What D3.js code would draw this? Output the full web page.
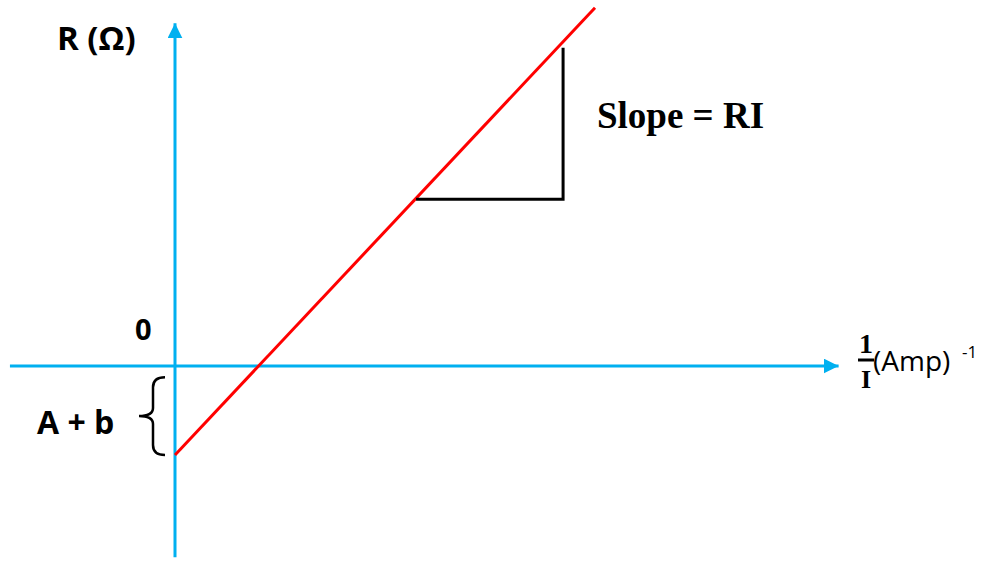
<!DOCTYPE html>
<html>
<head>
<meta charset="utf-8">
<script src="https://cdn.jsdelivr.net/npm/d3@7"></script>
<style>
  html, body { margin: 0; padding: 0; background: #fff; }
  svg { display: block; }
</style>
</head>
<body>
<svg id="chart" width="987" height="561"></svg>
<script>
// Linear relation R = RI * (1/I) - (A + b)
const lineX = [0, 10];          // 1/I (Amp^-1)
const lineR = [-2, 8.05];       // R (Ω)
const xAxisExtent = [-3.93, 15.8];
const yAxisExtent = [-4.3, 7.7];
const slopeRun = [5.74, 9.24];   // horizontal leg of slope triangle
const slopeRise = [3.75, 7.15];  // vertical leg of slope triangle
const intercept = -2;            // A + b, below zero
const braceTop = -0.25;

const svg = d3.select("#chart");
const x = d3.scaleLinear().domain([0, 10]).range([175, 595]);
const y = d3.scaleLinear().domain([0, 8]).range([366, 10]);

const blue = "#00b0f0";

// arrowheads
const defs = svg.append("defs");
defs.append("marker").attr("id", "arrow")
  .attr("viewBox", "0 0 10 10").attr("refX", 10).attr("refY", 5)
  .attr("markerWidth", 15).attr("markerHeight", 15)
  .attr("markerUnits", "userSpaceOnUse").attr("orient", "auto")
  .append("path").attr("d", "M0,0 L10,5 L0,10 Z").attr("fill", blue);

// x axis
svg.append("line")
  .attr("x1", x(xAxisExtent[0])).attr("x2", x(xAxisExtent[1]))
  .attr("y1", y(0)).attr("y2", y(0))
  .attr("stroke", blue).attr("stroke-width", 3)
  .attr("marker-end", "url(#arrow)");

// y axis
svg.append("line")
  .attr("x1", x(0)).attr("x2", x(0))
  .attr("y1", y(yAxisExtent[0])).attr("y2", y(yAxisExtent[1]))
  .attr("stroke", blue).attr("stroke-width", 3)
  .attr("marker-end", "url(#arrow)");

// fitted line
const pts = lineX.map((v, i) => [v, lineR[i]]);
svg.append("path")
  .attr("d", d3.line().x(d => x(d[0])).y(d => y(d[1]))(pts))
  .attr("fill", "none").attr("stroke", "#ff0000").attr("stroke-width", 3);

// slope triangle
svg.append("path")
  .attr("d", d3.line()([
    [x(slopeRun[0]), y(slopeRise[0])],
    [x(slopeRun[1]), y(slopeRise[0])],
    [x(slopeRun[1]), y(slopeRise[1])]
  ]))
  .attr("fill", "none").attr("stroke", "#000").attr("stroke-width", 3);

// curly brace marking the intercept
const bT = y(braceTop), bB = y(intercept), bM = (bT + bB) / 2;
const bx = 165, bc = 153, tip = 139;
svg.append("path")
  .attr("d", `M${bx},${bT} Q${bc},${bT} ${bc},${bT + 10} L${bc},${bM - 8} Q${bc},${bM} ${tip},${bM}` +
             ` Q${bc},${bM} ${bc},${bM + 8} L${bc},${bB - 10} Q${bc},${bB} ${bx},${bB}`)
  .attr("fill", "none").attr("stroke", "#000").attr("stroke-width", 2.5);

// labels
const sans = "'Open Sans', Lato, sans-serif";
const serif = "'Liberation Serif', 'DejaVu Serif', serif";

svg.append("text").attr("x", 57).attr("y", 50)
  .attr("font-family", sans).attr("font-weight", 700).attr("font-size", 33)
  .text("R (Ω)");

svg.append("text").attr("x", 135).attr("y", 340)
  .attr("font-family", sans).attr("font-weight", 700).attr("font-size", 29)
  .text("0");

svg.append("text").attr("x", 37).attr("y", 434)
  .attr("font-family", sans).attr("font-weight", 700).attr("font-size", 32)
  .text("A + b");

svg.append("text").attr("x", 597).attr("y", 128)
  .attr("font-family", serif).attr("font-weight", 700).attr("font-size", 37)
  .text("Slope = RI");

// x-axis label: 1/I (Amp)^-1
svg.append("text").attr("x", 866).attr("y", 353).attr("text-anchor", "middle")
  .attr("font-family", serif).attr("font-weight", 700).attr("font-size", 28)
  .text("1");
svg.append("line").attr("x1", 858).attr("x2", 874).attr("y1", 360).attr("y2", 360)
  .attr("stroke", "#000").attr("stroke-width", 3);
svg.append("text").attr("x", 866).attr("y", 388).attr("text-anchor", "middle")
  .attr("font-family", serif).attr("font-weight", 700).attr("font-size", 26)
  .text("I");
svg.append("text").attr("x", 873).attr("y", 371)
  .attr("font-family", sans).attr("font-size", 28)
  .text("(Amp)");
svg.append("text").attr("x", 962).attr("y", 358)
  .attr("font-family", sans).attr("font-size", 17)
  .text("-1");
</script>
</body>
</html>
